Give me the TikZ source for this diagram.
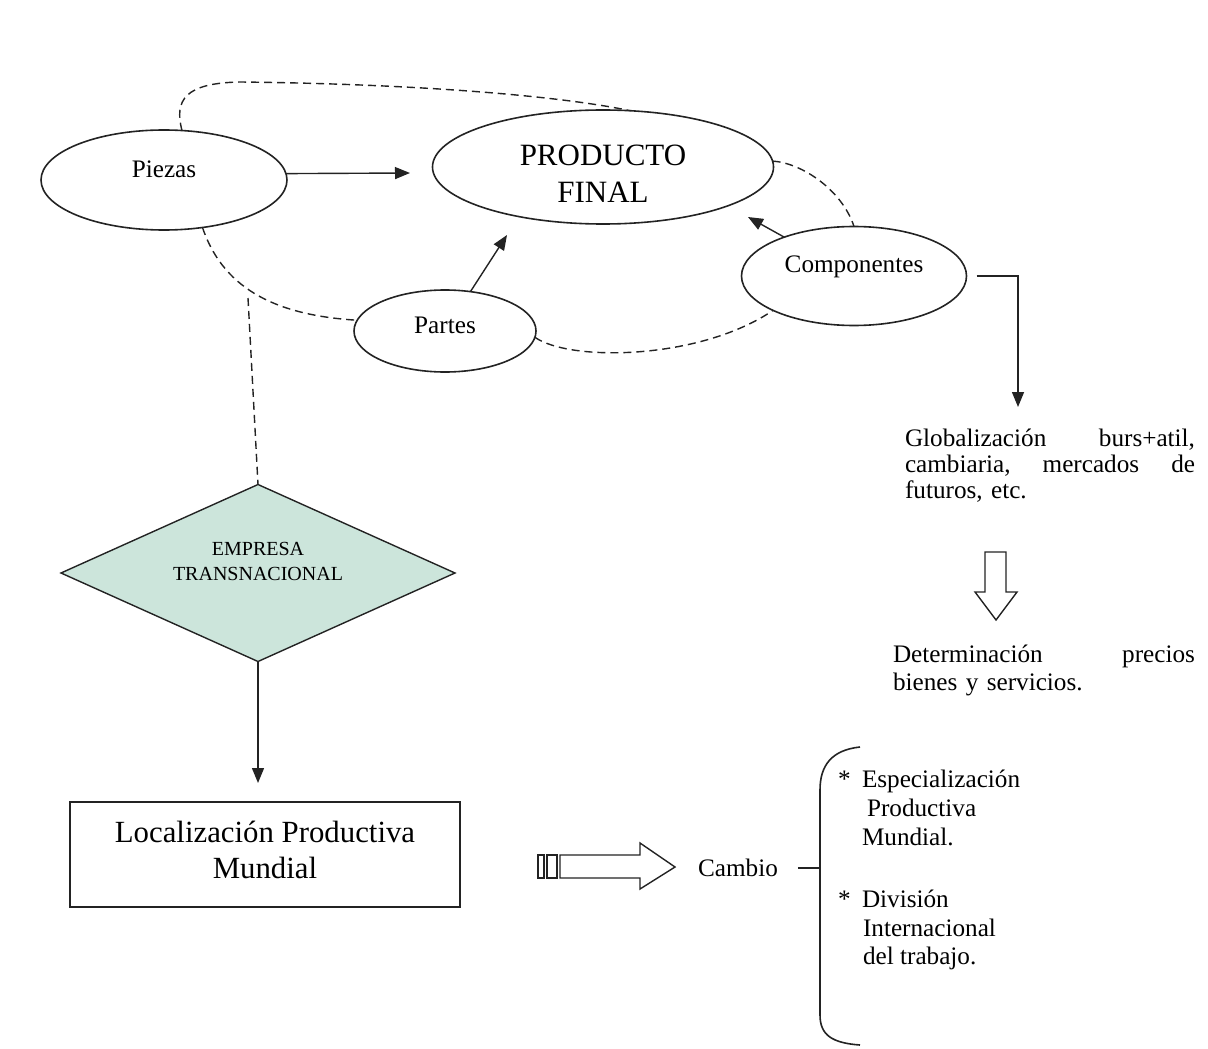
\documentclass[tikz,border=0pt]{standalone}
\usepackage{fontspec}
\setmainfont{Liberation Serif}
\usetikzlibrary{shapes.geometric,arrows.meta}
\definecolor{ink}{RGB}{35,35,35}
\definecolor{diamfill}{RGB}{204,229,219}
\tikzset{
    %Define standard arrow tip
    >={Triangle[length=7.5pt,width=6pt]},
    % Define arrow style
    pil/.style={
           ->,
           ink,
           line width=0.7pt},
    % Define dashed link style
    stipl/.style={
           ink,
           line width=0.7pt,
           dash pattern=on 4pt off 2.5pt}
}
\newcommand{\txtfont}{\fontsize{12.6}{14.3}\selectfont}
\newcommand{\bigfont}{\fontsize{15.5}{18.5}\selectfont}
\newcommand{\astmark}{\makebox[12pt][l]{*}}

\begin{document}
\begin{tikzpicture}[x=0.5pt, y=-0.5pt, outer sep=0pt]
\tikzstyle{nell}=[ draw=ink,
                  ellipse,
                  line width=0.8pt,
                  inner sep=0pt,
                  font=\txtfont]
\tikzstyle{nbox}=[ draw=ink,
                  rectangle,
                  line width=0.8pt,
                  inner sep=0pt,
                  align=center]
\tikzstyle{txt}=[ inner sep=0pt,
                  font=\txtfont]

\useasboundingbox (0,0) rectangle (1208,1048);

\node[nell, minimum width=123pt, minimum height=50pt, text height=9pt, text depth=12pt] (piezas) at (164,180) {Piezas};
\node[nell, minimum width=170.5pt, minimum height=57pt, font=\bigfont, align=center, text height=35.5pt, text depth=0pt] (prod) at (603,167) {PRODUCTO\\FINAL};
\node[nell, minimum width=91pt, minimum height=41pt, text height=9pt, text depth=7pt] (partes) at (445,331) {Partes};
\node[nell, minimum width=112.5pt, minimum height=49.5pt, text height=9pt, text depth=13pt] (comp) at (854,276) {Componentes};

\node[nbox, diamond, shape aspect=2.2, fill=diamfill, line width=0.7pt, minimum width=197pt, minimum height=88.5pt,
      font=\fontsize{10}{12.5}\selectfont, text height=19.5pt, text depth=12.5pt] (diam) at (258,573) {EMPRESA\\TRANSNACIONAL};
\node[nbox, minimum width=195pt, minimum height=52.5pt, font=\fontsize{15.4}{18}\selectfont, text depth=4.5pt] (locbox) at (265,854.5) {Localización Productiva\\Mundial};

\node[txt, anchor=west, text width=145pt, font=\fontsize{12.6}{13}\selectfont] (glob) at (905,466) {Globalización\hfill burs+atil,\\ cambiaria,\hfill mercados\hfill de\\ futuros, etc.};
\node[txt, anchor=west, text width=151pt, font=\fontsize{12.6}{14}\selectfont] (determ) at (893,670) {Determinación\hfill precios\\ bienes y servicios.};
\node[txt] (cambio) at (738,868) {Cambio};
\node[txt, anchor=west, align=left] (espec) at (838,808) {\astmark Especialización\\ \hspace*{14.5pt}Productiva\\ \hspace*{12pt}Mundial.};
\node[txt, anchor=west, align=left] (divis) at (838,930) {\astmark División\\ \hspace*{12.5pt}Internacional\\ \hspace*{12.5pt}del trabajo.};

% arrows towards the final product
\coordinate (pztip) at (410,173);
\coordinate (pttip) at (507,235);
\coordinate (cptip) at (748,217);
\coordinate (gltip) at (1018,407);
\coordinate (vtop)  at (248,298);
\coordinate (brmid) at (820,868);

\draw[pil] (piezas.3) -- (pztip);
\draw[pil] (partes) -- (pttip);
\draw[pil] (comp) -- (cptip);
\draw[pil, shorten <=5pt] (comp.east) -| (gltip);

% dashed links
\draw[stipl] (piezas.70) .. controls (174,100) and (185,83) .. (240,82) .. controls (420,84) and (560,96) .. (prod.64);
\draw[stipl] (piezas.-51) .. controls (222,285) and (270,315) .. (partes.173);
\draw[stipl] (prod.2) .. controls (802,163) and (842,190) .. (comp.north);
\draw[stipl] (partes.-4) .. controls (570,362) and (700,360) .. (comp.203);
\draw[stipl] (vtop) -- (diam.north);

\draw[pil, shorten >=9.5pt] (diam.south) -- (diam.south |- locbox.north);

% hollow arrows
\draw[ink, line width=0.7pt] (538,855) rectangle (544,878);
\draw[ink, line width=0.7pt] (547,855) rectangle (557,878);
\draw[ink, line width=0.7pt] (560,855) -- (640,855) -- (640,843) -- (675,867) -- (640,889) -- (640,878) -- (560,878) -- cycle;
\draw[ink, line width=0.7pt] (985,552) -- (1006,552) -- (1006,592) -- (1017,592) -- (996,620) -- (975,592) -- (985,592) -- cycle;

% bracket
\draw[ink, line width=0.7pt, shorten <=10pt] (cambio.east) -- (brmid);
\draw[ink, line width=0.8pt] (860,747) .. controls (832,750) and (820,765) .. (820,790) -- (820,1015) .. controls (820,1035) and (832,1043) .. (860,1045);

\end{tikzpicture}
\end{document}
